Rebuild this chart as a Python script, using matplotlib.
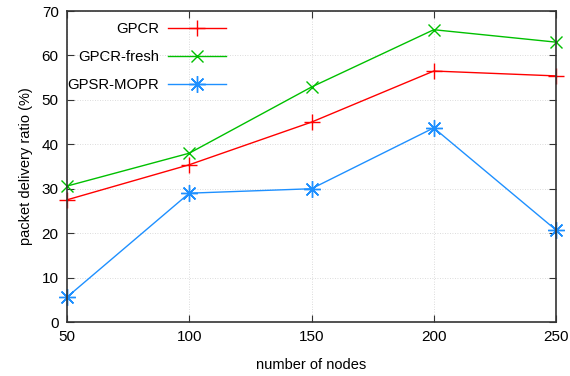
import matplotlib
matplotlib.use('Agg')
import matplotlib.pyplot as plt

plt.rcParams['font.family'] = ['Liberation Sans', 'DejaVu Sans']

# node counts and delivery ratios (%)
nodes = [50, 100, 150, 200, 250]
gpcr = [27.5, 35.4, 45.0, 56.5, 55.4]
gpcr_fresh = [30.6, 38.0, 52.9, 65.8, 63.0]
gpsr_mopr = [5.6, 29.0, 30.0, 43.7, 20.7]

x_ticks = [50, 100, 150, 200, 250]
y_ticks = [0, 10, 20, 30, 40, 50, 60, 70]

fig = plt.figure(figsize=(5.7, 3.76), dpi=100)
ax = fig.add_axes([0.1175, 0.1436, 0.858, 0.827])

ax.plot(nodes, gpcr, color='#ff0000', lw=1.0, marker='+', ms=12, mew=1.0,
        clip_on=False, label='GPCR')
ax.plot(nodes, gpcr_fresh, color='#00c000', lw=1.0, marker='x', ms=9, mew=1.0,
        clip_on=False, label='GPCR-fresh')
ax.plot(nodes, gpsr_mopr, color='#1e90ff', lw=1.0, marker=(8, 2, 0), ms=12, mew=1.0,
        clip_on=False, label='GPSR-MOPR')

ax.set_xlim(50, 250)
ax.set_ylim(0, 70)
ax.set_xticks(x_ticks)
ax.set_yticks(y_ticks)
ax.tick_params(direction='in', length=5, width=0.8, top=True, right=True,
               labelsize=11, pad=6, color='#333333')
ax.grid(True, linestyle=(0, (1, 2)), color='#d0d0d0', lw=0.6)
for s in ax.spines.values():
    s.set_color('#333333')
    s.set_linewidth(1.2)

ax.set_xlabel('number of nodes', fontsize=10.5, labelpad=10)
ax.set_ylabel('packet delivery ratio (%)', fontsize=10.5, labelpad=6)

leg = ax.legend(loc='upper left', bbox_to_anchor=(-0.027, 1.008), frameon=False,
                markerfirst=False, fontsize=10.7, handlelength=3.9,
                handletextpad=0.6, labelspacing=0.95)

fig.savefig('out.png', dpi=100)
